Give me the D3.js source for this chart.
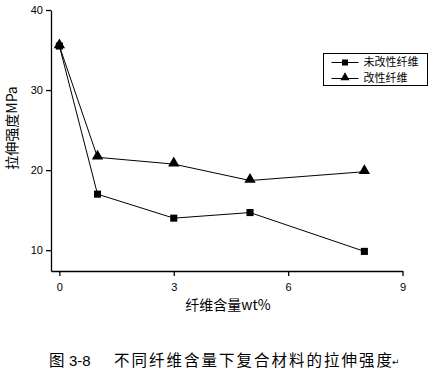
<!DOCTYPE html>
<html>
<head>
<meta charset="utf-8">
<script src="https://cdn.jsdelivr.net/npm/d3@7"></script>
<style>
  body { margin: 0; background: #fff; }
  svg { display: block; }
  text { font-family: "Noto Sans CJK SC", "DejaVu Sans", sans-serif; fill: #000; }
</style>
</head>
<body>
<svg id="chart" width="438" height="375"></svg>
<script>
const fiberContent = [0, 1, 3, 5, 8];
const untreatedFiber = [35.5, 17.0, 14.0, 14.7, 9.85];
const modifiedFiber = [35.5, 21.6, 20.75, 18.7, 19.8];
const seriesNames = ['未改性纤维', '改性纤维'];
const xTicks = [0, 3, 6, 9];
const yTicks = [10, 20, 30, 40];

const svg = d3.select('#chart');

const x = d3.scaleLinear().domain([-0.22, 9]).range([51, 402.5]);
const y = d3.scaleLinear().domain([7.4, 40]).range([271, 10]);

// axes
svg.append('g')
    .attr('transform', 'translate(0,271)')
    .call(d3.axisBottom(x).tickValues(xTicks).tickSize(5).tickSizeOuter(0))
    .call(g => g.select('.domain').attr('stroke', '#000').attr('stroke-width', 1.3))
    .call(g => g.selectAll('.tick line').attr('stroke-width', 1.3))
    .call(g => g.selectAll('.tick text').attr('font-size', 11).attr('dy', '1.1em')
        .style('font-family', 'Liberation Sans, sans-serif'));

svg.append('g')
    .attr('transform', 'translate(51,0)')
    .call(d3.axisLeft(y).tickValues(yTicks).tickSize(5).tickSizeOuter(0))
    .call(g => g.select('.domain').attr('stroke', '#000').attr('stroke-width', 1.3))
    .call(g => g.selectAll('.tick line').attr('stroke-width', 1.3))
    .call(g => g.selectAll('.tick text').attr('font-size', 11)
        .style('font-family', 'Liberation Sans, sans-serif'));

// axis labels
svg.append('text')
    .attr('x', 228).attr('y', 310)
    .attr('text-anchor', 'middle')
    .attr('font-size', 14)
    .text('纤维含量wt%');

svg.append('text')
    .attr('transform', 'translate(17,128) rotate(-90)')
    .attr('text-anchor', 'middle')
    .attr('font-size', 14)
    .text('拉伸强度MPa');

// lines
const line = d3.line()
    .x((d, i) => x(fiberContent[i]))
    .y(d => y(d));

[untreatedFiber, modifiedFiber].forEach(values => {
    svg.append('path')
        .datum(values)
        .attr('d', line)
        .attr('fill', 'none')
        .attr('stroke', '#000')
        .attr('stroke-width', 1);
});

const square = d3.symbol().type(d3.symbolSquare).size(50);
const triangle = d3.symbol().type(d3.symbolTriangle).size(56);

svg.append('g')
    .selectAll('path')
    .data(untreatedFiber)
    .join('path')
    .attr('d', square)
    .attr('transform', (d, i) => `translate(${x(fiberContent[i])},${y(d)})`)
    .attr('fill', '#000');

svg.append('g')
    .selectAll('path')
    .data(modifiedFiber)
    .join('path')
    .attr('d', triangle)
    .attr('transform', (d, i) => `translate(${x(fiberContent[i])},${y(d) - 1})`)
    .attr('fill', '#000');

// legend
const legend = svg.append('g').attr('transform', 'translate(323.5,53.5)');
legend.append('rect')
    .attr('width', 104).attr('height', 32)
    .attr('fill', '#fff').attr('stroke', '#000').attr('stroke-width', 1);

[square, triangle].forEach((sym, i) => {
    const row = legend.append('g').attr('transform', `translate(0,${9 + i * 16})`);
    row.append('line')
        .attr('x1', 8).attr('x2', 35)
        .attr('stroke', '#000').attr('stroke-width', 1);
    row.append('path')
        .attr('d', sym.size(36)())
        .attr('transform', `translate(21.5,${i === 1 ? -1 : 0})`)
        .attr('fill', '#000');
    row.append('text')
        .attr('x', 40).attr('y', 0)
        .attr('dy', '0.35em')
        .attr('font-size', 11)
        .text(seriesNames[i]);
});

// caption
const caption = svg.append('g').attr('font-size', 15.5);
caption.append('text').attr('x', 49).attr('y', 366).text('图');
caption.append('text').attr('x', 69).attr('y', 366)
    .style('font-family', 'Liberation Sans, sans-serif').attr('font-size', 15).text('3-8');
caption.append('text').attr('x', 114).attr('y', 366)
    .attr('textLength', 278).attr('lengthAdjust', 'spacing')
    .text('不同纤维含量下复合材料的拉伸强度');
caption.append('text').attr('x', 392).attr('y', 365)
    .attr('font-size', 9).attr('fill', '#888').text('↵');
</script>
</body>
</html>
